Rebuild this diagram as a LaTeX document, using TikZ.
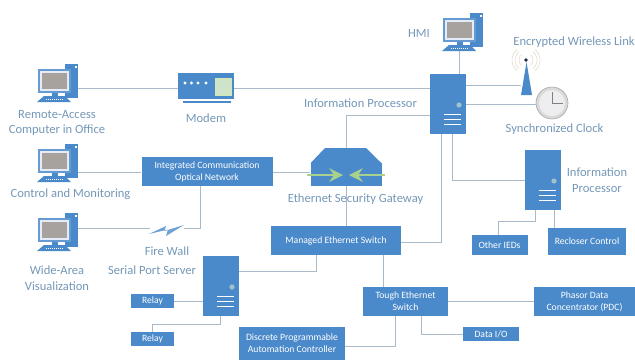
\documentclass[tikz,border=0pt]{standalone}
\usepackage{fontspec}
\setmainfont{Carlito}
\definecolor{bbl}{HTML}{4A89CA}
\definecolor{lnc}{HTML}{A9BBCB}
\definecolor{lbl}{HTML}{7497B8}
\definecolor{grn}{HTML}{A9D18E}
\definecolor{scr}{HTML}{A8A29F}
\definecolor{arcc}{HTML}{E6DFD2}
\tikzset{
  bluebox/.style={fill=bbl,draw=none,inner sep=0pt,text=white,align=center,font=\fontsize{9.7}{12}\selectfont},
  captxt/.style={text=lbl,align=center,inner sep=0pt,font=\fontsize{12.6}{16}\selectfont},
  conn/.style={draw=lnc,line width=1pt},
}
\newcommand\cmpt[3]{\begin{scope}[shift={(#2,#3)}]
  \node[bluebox,minimum width=13bp,minimum height=34bp] (#1) at (71.5,81) {};
  \fill[white] (75,66) rectangle (76.5,68);
  \fill[bbl!85!white] (38,69) rectangle (71,93);
  \fill[white!85!bbl] (40,71) rectangle (69,91);
  \fill[scr] (42,73) rectangle (67,89);
  \fill[bbl] (52,93) rectangle (58,96);
  \fill[bbl] (44,96) -- (65,96) -- (71,102) -- (37,102) -- cycle;
  \draw[white,line width=.5pt,dash pattern=on 1pt off 1pt] (46,99.5) -- (63,99.5);
  \coordinate (#1k) at (54,102);
\end{scope}}
\newcommand\srv[3]{\begin{scope}[shift={(#2,#3)}]
  \node[bluebox,minimum width=36bp,minimum height=60bp] (#1) at (18,30) {};
  \fill[white!55!grn!60!bbl] (29,31) circle (2.6);
  \draw[white,line width=1pt] (14,40) -- (31,40) (14,45) -- (31,45) (14,50) -- (31,50);
\end{scope}}
\begin{document}
\begin{tikzpicture}[x=1bp,y=-1bp]
\useasboundingbox (0,0) rectangle (635,360);
\cmpt{cA}{0}{0}
\cmpt{cB}{0}{80}
\cmpt{cC}{0}{149}
\cmpt{cH}{405}{-51}
\srv{sA}{430}{74}
\srv{sB}{203}{256}
\srv{sC}{525}{150}
% modem
\node[bluebox,minimum width=56bp,minimum height=26bp] (modem) at (206,86) {};
\fill[white] (185,83) circle (1.6) (191.5,83) circle (1.6) (198,83) circle (1.6) (206,83) circle (1.6);
\fill[grn!55!white] (214.5,78) rectangle (232,96);
\draw[white!70!bbl,line width=.5pt] (223,86.5) circle (6) (217,86.5) -- (229,86.5) (223,80.5) -- (223,92.5);
\draw[bbl,line width=1.5pt] (183,102) -- (231,102);
% gateway
\node[bluebox,minimum width=71bp,minimum height=23bp] (gw) at (346,174.5) {};
\fill[bbl] (325,148) -- (366,148) -- (381.5,163.2) -- (310.5,163.2) -- cycle;
\draw[grn,line width=2.4pt] (307,175) -- (335,175) (385,175) -- (357,175);
\fill[grn] (329,168) -- (343,175) -- (329,182) -- (334,175) -- cycle;
\fill[grn] (363,168) -- (349,175) -- (363,182) -- (358,175) -- cycle;
% boxes
\node[bluebox,minimum width=131bp,minimum height=29bp] (icon) at (207,171.5) {Integrated Communication\\Optical Network};
\node[bluebox,minimum width=130bp,minimum height=29bp] (mes) at (336,240.5) {Managed Ethernet Switch};
\node[bluebox,minimum width=85bp,minimum height=29bp] (tes) at (405.5,301.5) {Tough Ethernet\\Switch};
\node[bluebox,minimum width=101bp,minimum height=29bp] (pdc) at (584.5,301.5) {Phasor Data\\Concentrator (PDC)};
\node[bluebox,minimum width=56bp,minimum height=14.5bp] (dio) at (491,334) {Data I/O};
\node[bluebox,minimum width=106bp,minimum height=33bp] (dpac) at (292,343) {Discrete Programmable\\Automation Controller};
\node[bluebox,minimum width=43bp,minimum height=14.5bp] (rA) at (152.5,301) {Relay};
\node[bluebox,minimum width=43bp,minimum height=14.5bp] (rB) at (152.5,339) {Relay};
\node[bluebox,minimum width=56bp,minimum height=20bp] (ied) at (499.5,245) {Other IEDs};
\node[bluebox,minimum width=78bp,minimum height=27bp] (rec) at (587,241.5) {Recloser Control};
% antenna
\node[inner sep=0pt,minimum width=11bp,minimum height=33bp] (ant) at (526.5,78.5) {};
\fill[bbl] (526.5,62) -- (532,95) -- (521,95) -- cycle;
\fill[black!70!bbl] (526,60) circle (1.8);
\foreach \r in {7,11,14}{
  \draw[arcc,line width=.7pt] (526,60) ++(130:\r) arc[start angle=130,end angle=230,radius=\r];
  \draw[arcc,line width=.7pt] (526,60) ++(50:\r) arc[start angle=50,end angle=-50,radius=\r];
}
% clock
\node[circle,fill=gray!30,draw=gray!70,line width=.6pt,minimum size=32bp,inner sep=0pt] (clk) at (552,103) {};
\fill[blue!8!gray!12] (552,103) circle (13);
\draw[gray,line width=.9pt] (552,92) -- (552,103) -- (563,103);
% connectors
\draw[conn] (cA.east |- 0,88) -- (modem.west |- 0,88);
\draw[conn] (modem.east |- 0,88) -- (sA.west |- 0,88);
\draw[conn] (cHk) -- (cHk |- sA.north);
\draw[conn] (sA.east |- 0,85) -- (ant.west |- 0,85);
\draw[conn] (sA.east |- 0,104) -- (clk.west |- 0,104);
\draw[conn] (sA.west |- 0,115) -| (346,148);
\draw[conn] (cB.east |- 0,172) -- (icon.west |- 0,172);
\draw[conn] (icon.east |- 0,172) -- (gw.west |- 0,172);
\draw[conn] (gw.south -| 346,0) -- (mes.north -| 346,0);
\draw[conn] (cC.east |- 0,228) -- (150,228);
\draw[conn] (184,228) -- (200,228) -- (icon.south -| 200,0);
\draw[conn] (mes.east |- 0,242) -| (sA.south -| 441,0);
\draw[conn] (sA.south -| 452,0) |- (sC.west |- 0,180);
\draw[conn] (sC.south -| 535,0) |- (498,221) -- (ied.north -| 498,0);
\draw[conn] (sC.south -| 554,0) -- (rec.north -| 554,0);
\draw[conn] (sB.east |- 0,271) -| (mes.south -| 316,0);
\draw[conn] (mes.south -| 383,0) -- (tes.north -| 383,0);
\draw[conn] (tes.east |- 0,301) -- (pdc.west |- 0,301);
\draw[conn] (tes.south -| 421,0) |- (dio.west |- 0,334);
\draw[conn] (tes.south -| 395,0) |- (dpac.east |- 0,346);
\draw[conn] (rA.east |- 0,301) -- (sB.west |- 0,301);
\draw[conn] (sB.south -| 220,0) |- (152,324) -- (rB.north -| 152,0);
% lightning
\node[inner sep=0pt,minimum width=34bp,minimum height=10bp] (fw) at (167,229) {};
\fill[bbl!80!white] (149,234) -- (166,226) -- (164.5,231) -- (184,225) -- (166,236) -- (168,229.5) -- cycle;
% captions
\node[captxt] (tA) at (57,123) {Remote-Access\\Computer in Office};
\node[captxt] (tM) at (206,118) {Modem};
\node[captxt] (tB) at (70.5,194) {Control and Monitoring};
\node[captxt] (tC) at (57,278) {Wide-Area\\Visualization};
\node[captxt] (tFW) at (167,251) {Fire Wall};
\node[captxt] (tSP) at (152,270) {Serial Port Server};
\node[captxt] (tIP) at (360.5,103) {Information Processor};
\node[captxt] (tGW) at (355.5,199) {Ethernet Security Gateway};
\node[captxt] (tH) at (419,33) {HMI};
\node[captxt] (tEW) at (574,42) {Encrypted Wireless Link};
\node[captxt] (tCL) at (554.5,129) {Synchronized Clock};
\node[captxt] (tIP2) at (597,180) {Information\\Processor};
\end{tikzpicture}
\end{document}
